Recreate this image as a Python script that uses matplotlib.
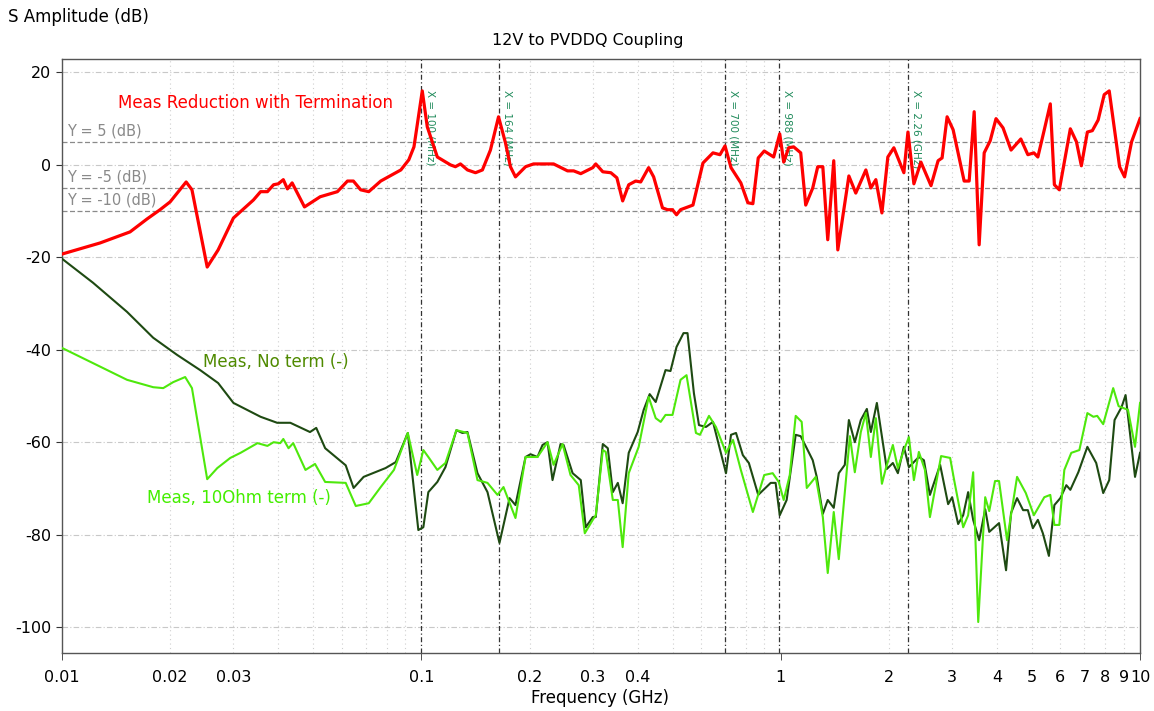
import matplotlib
matplotlib.use("Agg")
import matplotlib.pyplot as plt
from matplotlib.ticker import FixedLocator, FixedFormatter, NullFormatter

# Meas Reduction with Termination (red)
red_f = [0.01, 0.01276, 0.01547, 0.01725, 0.01875, 0.02, 0.02216, 0.0230, 0.02536, 0.0272,
         0.03, 0.0341, 0.0357, 0.0373, 0.0388, 0.04, 0.0413, 0.0424, 0.0437, 0.0473,
         0.0523, 0.0584, 0.0623, 0.0647, 0.0678, 0.0714, 0.0771, 0.0877, 0.0923, 0.0954,
         0.1006, 0.1039, 0.1108, 0.1205, 0.1244, 0.1285, 0.1344, 0.1415, 0.1479, 0.1557,
         0.1640, 0.1714, 0.177, 0.1828, 0.195, 0.2052, 0.2334, 0.2552, 0.2654, 0.2778,
         0.3, 0.3058, 0.3199, 0.3368, 0.3501, 0.3633, 0.3777, 0.3949, 0.4078, 0.4291,
         0.4431, 0.4689, 0.4842, 0.5, 0.513, 0.5264, 0.570, 0.6077, 0.648, 0.6778,
         0.7, 0.7274, 0.7747, 0.8103, 0.8368, 0.866, 0.9, 0.956, 0.994, 1.0195,
         1.0526, 1.0866, 1.137, 1.174, 1.228, 1.268, 1.31, 1.352, 1.405, 1.442,
         1.548, 1.618, 1.726, 1.782, 1.840, 1.913, 1.987, 2.065, 2.202, 2.260,
         2.348, 2.456, 2.620, 2.742, 2.813, 2.905, 3.019, 3.24, 3.346, 3.455,
         3.567, 3.684, 3.828, 3.974, 4.157, 4.376, 4.659, 4.873, 5.065, 5.196,
         5.415, 5.627, 5.776, 5.962, 6.398, 6.653, 6.866, 7.136, 7.366, 7.646,
         7.949, 8.208, 8.772, 9.058, 9.474, 10.0]
red_db = [-19.3, -16.9, -14.5, -11.7, -9.7, -8.0, -3.7, -5.4, -22.1, -18.4,
          -11.5, -7.6, -5.8, -5.8, -4.3, -4.1, -3.2, -5.2, -3.9, -9.1,
          -6.9, -5.8, -3.5, -3.5, -5.4, -5.8, -3.5, -1.1, 1.1, 3.9,
          16.0, 8.2, 1.7, 0.0, -0.4, 0.2, -1.1, -1.7, -1.1, 3.2,
          10.4, 4.8, -0.4, -2.6, -0.4, 0.2, 0.2, -1.3, -1.3, -1.9,
          -0.6, 0.2, -1.5, -1.7, -2.8, -7.8, -4.3, -3.5, -3.7, -0.6,
          -2.6, -9.3, -9.7, -9.7, -10.8, -9.7, -8.7, 0.4, 2.6, 2.2,
          4.1, -0.6, -3.9, -8.2, -8.4, 1.5, 3.0, 1.7, 6.7, 0.6,
          3.7, 3.9, 2.6, -8.7, -5.0, -0.4, -0.4, -16.2, 0.9, -18.4,
          -2.4, -6.1, -1.1, -5.0, -3.2, -10.4, 1.7, 3.7, -1.7, 7.1,
          -4.1, 0.6, -4.5, 0.9, 1.5, 10.4, 7.6, -3.5, -3.5, 11.5,
          -17.3, 2.6, 5.2, 10.0, 8.0, 3.2, 5.6, 2.2, 2.6, 1.7,
          7.6, 13.2, -4.3, -5.4, 7.8, 5.0, -0.2, 7.1, 7.4, 9.7,
          15.2, 16.0, -0.4, -2.6, 5.0, 10.0]

# Meas, No term (dark green)
noterm_f = [0.01, 0.0122, 0.01517, 0.01794, 0.0209, 0.02424, 0.0272, 0.03, 0.0357, 0.0397,
            0.0432, 0.049, 0.051, 0.054, 0.0616, 0.0648, 0.0691, 0.0795, 0.0849, 0.0917,
            0.0981, 0.1013, 0.1046, 0.1108, 0.1167, 0.1252, 0.1301, 0.1344, 0.1433, 0.1528,
            0.1650, 0.176, 0.1828, 0.195, 0.2013, 0.2105, 0.2174, 0.2245, 0.2318, 0.244,
            0.2488, 0.2636, 0.2778, 0.2867, 0.3, 0.3058, 0.3199, 0.3303, 0.3411, 0.3522,
            0.3633, 0.3777, 0.4, 0.4157, 0.432, 0.449, 0.4781, 0.4936, 0.513, 0.5365,
            0.5505, 0.5735, 0.5924, 0.6196, 0.648, 0.7045, 0.7274, 0.7511, 0.7847, 0.8156,
            0.866, 0.938, 0.968, 0.994, 1.039, 1.101, 1.137, 1.228, 1.26, 1.31,
            1.352, 1.405, 1.451, 1.508, 1.548, 1.608, 1.671, 1.737, 1.782, 1.852,
            1.974, 2.052, 2.119, 2.202, 2.274, 2.424, 2.504, 2.602, 2.778, 2.924,
            3.0, 3.118, 3.22, 3.324, 3.433, 3.567, 3.708, 3.805, 4.052, 4.238,
            4.376, 4.548, 4.727, 4.873, 5.032, 5.196, 5.365, 5.577, 5.776, 6.0,
            6.236, 6.398, 6.734, 7.136, 7.552, 7.898, 8.208, 8.494, 8.885, 9.116,
            9.684, 10.0]
noterm_db = [-20.3, -25.5, -31.8, -37.4, -41.1, -44.4, -47.2, -51.5, -54.5, -55.8,
             -55.8, -57.8, -56.9, -61.3, -65.0, -69.9, -67.5, -65.6, -64.3, -58.0,
             -79.0, -78.4, -70.8, -68.6, -65.4, -57.4, -58.0, -57.8, -66.7, -70.8,
             -81.8, -72.1, -73.6, -63.2, -62.6, -63.2, -60.6, -60.0, -68.2, -60.4,
             -60.6, -66.7, -68.2, -78.4, -76.2, -76.2, -60.4, -61.3, -70.8, -68.8,
             -73.2, -62.3, -57.8, -53.0, -49.6, -51.3, -44.4, -44.6, -39.4, -36.4,
             -36.4, -49.4, -56.3, -56.7, -55.6, -66.7, -58.4, -58.0, -62.8, -64.5,
             -71.4, -68.8, -68.8, -75.8, -72.5, -58.4, -58.7, -63.9, -67.5, -75.5,
             -72.5, -74.2, -66.7, -64.9, -55.2, -60.0, -55.2, -52.8, -57.8, -51.5,
             -65.8, -64.5, -66.7, -61.0, -65.4, -63.2, -63.9, -71.4, -64.9, -73.4,
             -71.9, -77.7, -75.8, -70.8, -76.8, -81.2, -74.5, -79.4, -77.5, -87.7,
             -75.3, -72.1, -74.7, -74.7, -78.6, -76.8, -79.7, -84.6, -73.6, -72.1,
             -69.3, -70.3, -66.5, -61.0, -64.5, -71.0, -68.2, -55.2, -52.4, -49.8,
             -67.5, -62.3]

# Meas, 10Ohm term (light green)
term_f = [0.01, 0.0122, 0.01517, 0.01794, 0.01913, 0.0204, 0.02202, 0.0230, 0.02536, 0.02705,
          0.0294, 0.0314, 0.035, 0.0373, 0.0388, 0.0405, 0.0413, 0.0427, 0.044, 0.0476,
          0.0506, 0.054, 0.0616, 0.0657, 0.0714, 0.0771, 0.0839, 0.0917, 0.0974, 0.1013,
          0.1046, 0.1108, 0.1167, 0.1252, 0.1344, 0.1433, 0.1528, 0.1629, 0.1693, 0.1828,
          0.195, 0.2105, 0.2245, 0.2334, 0.2472, 0.2601, 0.2742, 0.285, 0.3, 0.3058,
          0.3199, 0.326, 0.3411, 0.3522, 0.3633, 0.3777, 0.4026, 0.4291, 0.449, 0.4636,
          0.4781, 0.5, 0.5264, 0.547, 0.581, 0.5962, 0.6316, 0.6605, 0.7045, 0.7368,
          0.7747, 0.8368, 0.9, 0.95, 0.9876, 1.0195, 1.06, 1.101, 1.144, 1.182,
          1.252, 1.31, 1.352, 1.405, 1.451, 1.508, 1.558, 1.608, 1.671, 1.726,
          1.782, 1.840, 1.913, 1.963, 2.052, 2.119, 2.202, 2.274, 2.348, 2.424,
          2.52, 2.602, 2.795, 2.962, 3.039, 3.22, 3.324, 3.433, 3.546, 3.708,
          3.805, 3.949, 4.052, 4.265, 4.548, 4.81, 5.065, 5.415, 5.627, 5.776,
          5.962, 6.156, 6.437, 6.779, 7.136, 7.416, 7.6, 7.898, 8.42, 8.716,
          9.258, 9.684, 10.0]
term_db = [-39.6, -42.9, -46.5, -48.1, -48.3, -47.0, -45.9, -48.3, -68.0, -65.6,
           -63.4, -62.3, -60.2, -60.8, -60.0, -60.2, -59.3, -61.3, -60.2, -66.0,
           -64.7, -68.6, -68.8, -73.8, -73.2, -69.7, -66.0, -58.0, -67.1, -61.7,
           -63.2, -66.0, -64.5, -57.4, -58.0, -68.2, -68.8, -71.4, -69.7, -76.4,
           -63.2, -63.2, -60.0, -64.9, -60.4, -67.1, -69.3, -79.7, -76.8, -75.8,
           -61.7, -62.1, -72.5, -72.5, -82.7, -66.7, -61.0, -50.2, -54.8, -55.6,
           -54.1, -54.1, -46.5, -45.5, -58.0, -58.4, -54.3, -56.7, -62.3, -59.5,
           -66.0, -75.1, -67.1, -66.7, -68.6, -72.5, -67.1, -54.3, -55.6, -69.9,
           -67.5, -76.2, -88.3, -75.1, -85.3, -71.0, -58.7, -66.5, -57.8, -53.7,
           -63.2, -54.8, -69.0, -65.6, -60.6, -65.6, -61.7, -58.9, -68.2, -62.1,
           -66.0, -76.2, -63.0, -63.4, -68.2, -78.4, -75.8, -66.5, -98.9, -71.9,
           -74.9, -68.4, -68.4, -81.2, -67.5, -71.0, -75.8, -71.9, -71.4, -77.9,
           -77.9, -66.0, -62.3, -61.7, -53.7, -54.5, -54.3, -56.1, -48.3, -52.2,
           -53.0, -61.0, -51.5]

# markers
x_markers = [0.1, 0.164, 0.7, 0.988, 2.26]
x_marker_labels = ["X = 100 (MHz)", "X = 164 (MHz)", "X = 700 (MHz)", "X = 988 (MHz)", "X = 2.26 (GHz)"]
y_markers = [5, -5, -10]
y_marker_labels = ["Y = 5 (dB)", "Y = -5 (dB)", "Y = -10 (dB)"]

# tick labels
x_tickmarks = [0.01, 0.1, 1, 10]
x_label_pos = [0.01, 0.02, 0.03, 0.1, 0.2, 0.3, 0.4, 1, 2, 3, 4, 5, 6, 7, 8, 9, 10]
x_label_txt = ["0.01", "0.02", "0.03", "0.1", "0.2", "0.3", "0.4", "1", "2", "3", "4",
               "5", "6", "7", "8", "9", "10"]
y_ticks = [20, 0, -20, -40, -60, -80, -100]

plt.rcParams['font.family'] = ['DejaVu Sans']

fig = plt.figure(figsize=(11.54, 7.11), dpi=100)
ax = fig.add_axes([0.0537, 0.0816, 0.9342, 0.8354])

# grid
minor_grid = [m * d for d in [0.01, 0.1, 1] for m in range(2, 10)]
for g in minor_grid:
    ax.axvline(g, color='#cfcfcf', lw=0.8, ls=(0, (1, 3)), zorder=0)
for yv in y_ticks:
    ax.axhline(yv, color='#c8c8c8', lw=0.8, ls=(0, (5, 2, 1, 2)), zorder=0)

# marker lines
for xm, lab in zip(x_markers, x_marker_labels):
    ax.axvline(xm, color='#333333', lw=0.9, ls=(0, (4, 2, 1, 2)), zorder=1)
    ax.text(xm * 1.025, 16.2, lab, rotation=-90, fontsize=7.5, color='#1f8a5a',
            ha='left', va='top', zorder=2)
for ym, lab in zip(y_markers, y_marker_labels):
    ax.axhline(ym, color='#8a8a8a', lw=0.9, ls=(0, (4, 2)), zorder=1)
    ax.text(0.0103, ym + 0.7, lab, fontsize=10.5, color='#8a8a8a', ha='left', va='bottom', zorder=2)

ax.plot(noterm_f, noterm_db, color='#1e4a12', lw=1.5, zorder=3)
ax.plot(term_f, term_db, color='#4ee80c', lw=1.5, zorder=3)
ax.plot(red_f, red_db, color='#ff0000', lw=2.3, zorder=4)

ax.text(0.01432, 13.4, "Meas Reduction with Termination", color='#ff0000', fontsize=12,
        ha='left', va='center')
ax.text(0.02472, -42.6, "Meas, No term (-)", color='#4f8a00', fontsize=12,
        ha='left', va='center')
ax.text(0.01725, -72.1, "Meas, 10Ohm term (-)", color='#44ee00', fontsize=12,
        ha='left', va='center')

ax.set_xscale('log')
ax.set_xlim(0.01, 10)
ax.set_ylim(-105.6, 22.9)

ax.xaxis.remove_overlapping_locs = False
ax.xaxis.set_major_locator(FixedLocator(x_label_pos))
ax.xaxis.set_major_formatter(FixedFormatter(x_label_txt))
ax.xaxis.set_minor_locator(FixedLocator(x_tickmarks))
ax.xaxis.set_minor_formatter(NullFormatter())
ax.tick_params(axis='x', which='minor', length=5, color='#333333')
ax.tick_params(axis='x', which='major', length=0, pad=12, labelsize=11.5)
ax.set_yticks(y_ticks)
ax.set_yticklabels([str(v) for v in y_ticks])
ax.tick_params(axis='y', length=4, color='#333333', labelsize=11.5)

for s in ax.spines.values():
    s.set_color('#555555')
    s.set_linewidth(1.0)

fig.text(588 / 1154, 1 - 40 / 711, "12V to PVDDQ Coupling", fontsize=11.5, ha='center', va='center')
fig.text(8 / 1154, 1 - 17 / 711, "S Amplitude (dB)", fontsize=12, ha='left', va='center')
fig.text(600 / 1154, 1 - 698 / 711, "Frequency (GHz)", fontsize=12, ha='center', va='center')

fig.savefig("out.png", dpi=100)
